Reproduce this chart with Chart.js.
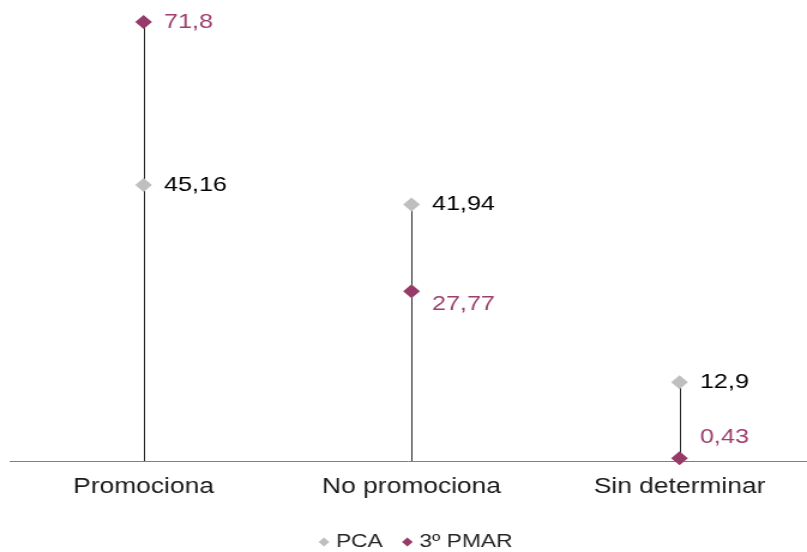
<!DOCTYPE html>
<html><head><meta charset="utf-8">
<script src="https://cdn.jsdelivr.net/npm/chart.js@4"></script>
<style>
html,body{margin:0;padding:0;background:#fff;overflow:hidden;}
#wrap{position:absolute;left:0;top:0;width:673px;height:552px;transform:scaleX(1.19911);transform-origin:0 0;}
</style></head><body>
<div id="wrap"><canvas id="c" width="673" height="552"></canvas></div>
<script>
const categories = ['Promociona', 'No promociona', 'Sin determinar'];
const seriesNames = ['PCA', '3º PMAR'];
const pcaValues = [45.16, 41.94, 12.9];
const pmarValues = [71.8, 27.77, 0.43];

const fmt = v => String(v).replace('.', ',');

// x axis line (extended to the canvas edge) and drop lines from each point to the axis
const dropLines = {
  id: 'dropLines',
  beforeDatasetsDraw(chart, args, opts) {
    const {ctx, chartArea, scales: {y}} = chart;
    const y0 = y.getPixelForValue(0);
    ctx.save();
    ctx.lineWidth = 1;
    ctx.strokeStyle = opts.axisColor;
    ctx.beginPath();
    ctx.moveTo(chartArea.left, Math.round(y0) + 0.5);
    ctx.lineTo(chart.width, Math.round(y0) + 0.5);
    ctx.stroke();
    ctx.strokeStyle = opts.lineColor;
    chart.data.datasets.forEach((ds, di) => {
      chart.getDatasetMeta(di).data.forEach(pt => {
        const px = Math.round(pt.x) + 0.5;
        ctx.beginPath();
        ctx.moveTo(px, pt.y);
        ctx.lineTo(px, y0);
        ctx.stroke();
      });
    });
    ctx.restore();
  }
};

const valueLabels = {
  id: 'valueLabels',
  afterDatasetsDraw(chart, args, opts) {
    const {ctx} = chart;
    ctx.save();
    ctx.font = '21px "Liberation Sans", Arial, sans-serif';
    ctx.textAlign = 'left';
    ctx.textBaseline = 'middle';
    chart.data.datasets.forEach((ds, di) => {
      const dys = opts.dy[di];
      ctx.fillStyle = opts.colors[di];
      chart.getDatasetMeta(di).data.forEach((pt, i) => {
        ctx.fillText(fmt(ds.data[i].y), pt.x + 17, pt.y + dys[i]);
      });
    });
    ctx.restore();
  }
};

const legendShift = {
  id: 'legendShift',
  afterLayout(chart, args, opts) {
    if (chart.legend) {
      chart.legend.left += opts.dx;
      chart.legend.right += opts.dx;
    }
  }
};

new Chart(document.getElementById('c'), {
  type: 'scatter',
  data: {
    datasets: [
      {
        label: seriesNames[0],
        data: pcaValues.map((v, i) => ({x: i, y: v})),
        pointStyle: 'rectRot',
        pointRadius: 7,
        backgroundColor: '#bfbfbf',
        borderColor: '#bfbfbf',
        borderWidth: 0,
        clip: false
      },
      {
        label: seriesNames[1],
        data: pmarValues.map((v, i) => ({x: i, y: v})),
        pointStyle: 'rectRot',
        pointRadius: 7,
        backgroundColor: '#963a67',
        borderColor: '#963a67',
        borderWidth: 0,
        clip: false
      }
    ]
  },
  options: {
    responsive: false,
    animation: false,
    events: [],
    layout: {padding: {left: 8, top: 20.8, right: 0, bottom: 0}},
    scales: {
      x: {
        type: 'linear',
        min: -0.5,
        max: 2.4444,
        grid: {display: false, drawTicks: false},
        border: {display: false},
        ticks: {
          padding: 12.8,
          font: {family: '"Liberation Sans", Arial, sans-serif', size: 22},
          color: '#1a1a1a',
          callback: v => categories[v]
        },
        afterBuildTicks: s => { s.ticks = categories.map((c, i) => ({value: i})); },
        afterFit: s => { s.height = 51.5; s.paddingLeft = 0; s.paddingRight = 0; }
      },
      y: {display: false, min: 0, max: 72}
    },
    plugins: {
      legend: {
        position: 'bottom',
        maxHeight: 39.5,
        labels: {
          usePointStyle: true,
          boxWidth: 1,
          boxHeight: 6.4,
          padding: 20,
          font: {family: '"Liberation Sans", Arial, sans-serif', size: 19},
          color: '#262626'
        }
      },
      legendShift: {dx: 8},
      tooltip: {enabled: false},
      dropLines: {axisColor: '#808080', lineColor: '#262626'},
      valueLabels: {
        colors: ['#000000', '#9e3f6e'],
        dy: [[0, 0, 0], [0, 13, -21]]
      }
    }
  },
  plugins: [dropLines, valueLabels, legendShift]
});
</script>
</body></html>
